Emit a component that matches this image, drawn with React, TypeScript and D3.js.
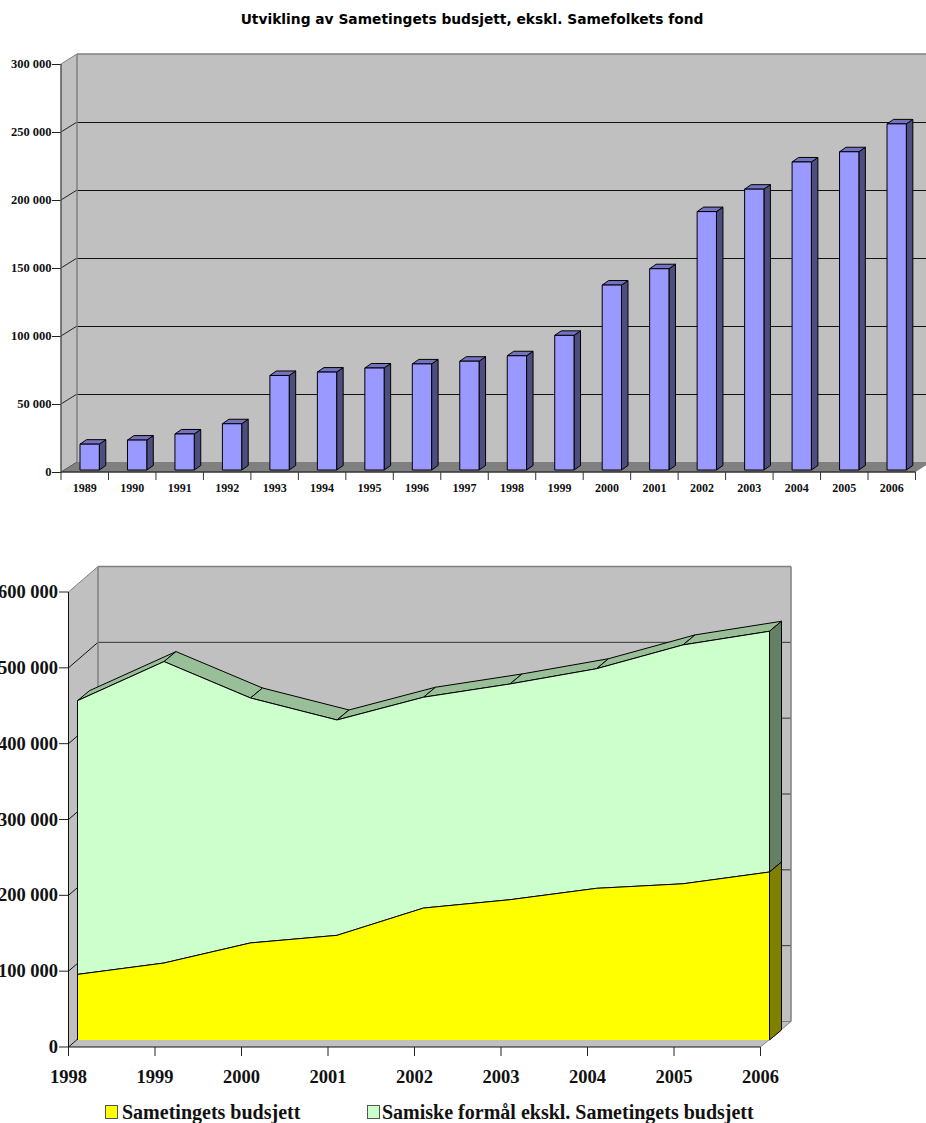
import React from "react";
import * as d3 from "d3";

const title = "Utvikling av Sametingets budsjett, ekskl. Samefolkets fond";
const barYears = ["1989","1990","1991","1992","1993","1994","1995","1996","1997","1998","1999","2000","2001","2002","2003","2004","2005","2006"];
const barValues = [19000,22000,26500,34000,69500,72000,75000,78000,80000,84000,99000,136000,148000,190000,206500,226500,234000,254500];
const barTicks = [0,50000,100000,150000,200000,250000,300000];

const areaYears = ["1998","1999","2000","2001","2002","2003","2004","2005","2006"];
const budsjett = [86500,101500,128000,138000,174000,185000,200000,206000,221500];
const samiskeFormal = [361000,397500,323000,284000,278000,284500,289600,315000,317500];
const areaTicks = [0,100000,200000,300000,400000,500000,600000];
const legendNames = ["Sametingets budsjett","Samiske formål ekskl. Sametingets budsjett"];

const fmt = (v: number) => v === 0 ? "0" : `${Math.round(v / 1000)} 000`;
const pts = (p: number[][]) => p.map(q => q.join(",")).join(" ");
const SERIF = "'Liberation Serif', serif";

function BarChart() {
  const y = d3.scaleLinear().domain([0, 300000]).range([472, 64]);
  const x = d3.scaleBand().domain(barYears).range([61, 915.5]);
  const D = [16, -10];
  const bw = x.bandwidth();
  const barW = 19.3, bx = 19, by = -2, bd = [6.5, -4.5];
  const right = 926;
  return (
    <g>
      <text x={472} y={24} textAnchor="middle" fontFamily="'DejaVu Sans', sans-serif" fontWeight="bold" fontSize={13.8} fill="#000">{title}</text>
      <polygon points={pts([[61, y(300000)], [61 + D[0], y(300000) + D[1]], [61 + D[0], y(0) + D[1]], [61, y(0)]])} fill="#c0c0c0" />
      <rect x={61 + D[0]} y={y(300000) + D[1]} width={right - 61 - D[0]} height={y(0) - y(300000)} fill="#c0c0c0" />
      <polygon points={pts([[61, y(0)], [61 + D[0], y(0) + D[1]], [931, y(0) + D[1]], [915.5, y(0)]])} fill="#808080" />
      {barTicks.map(t => (
        <g key={t}>
          {t > 0 && t < 300000 && <line x1={61 + D[0]} x2={right} y1={y(t) + D[1] + 0.5} y2={y(t) + D[1] + 0.5} stroke="#111" strokeWidth={1} />}
          <line x1={52} x2={61} y1={y(t) + 0.5} y2={y(t) + 0.5} stroke="#222" strokeWidth={1} />
          {t < 300000 && <line x1={61} x2={61 + D[0]} y1={y(t)} y2={y(t) + D[1]} stroke={t === 0 ? "#555" : "#222"} strokeWidth={1} />}
          <text x={51.5} y={y(t) + 3.5} textAnchor="end" fontFamily={SERIF} fontWeight="bold" fontSize={12.5} fill="#111">{fmt(t)}</text>
        </g>
      ))}
      <line x1={61 + D[0]} x2={61 + D[0]} y1={y(300000) + D[1]} y2={y(0) + D[1]} stroke="#808080" strokeWidth={1.5} />
      <line x1={61 + D[0]} x2={right} y1={y(300000) + D[1]} y2={y(300000) + D[1]} stroke="#808080" strokeWidth={1.5} />
      <line x1={61} x2={61 + D[0]} y1={y(300000)} y2={y(300000) + D[1]} stroke="#808080" strokeWidth={1} />
      <line x1={61} x2={61} y1={y(300000)} y2={y(0)} stroke="#555" strokeWidth={1.5} />
      <line x1={61} x2={915.5} y1={y(0)} y2={y(0)} stroke="#333" strokeWidth={1.5} />
      {barYears.map((yr, i) => {
        const x0 = x(yr)! + bx, x1 = x0 + barW;
        const top = y(barValues[i]) + by, base = y(0) + by;
        return (
          <g key={yr} stroke="#000" strokeWidth={1} strokeLinejoin="round">
            <polygon points={pts([[x1, top], [x1 + bd[0], top + bd[1]], [x1 + bd[0], base + bd[1]], [x1, base]])} fill="#4d4d80" />
            <polygon points={pts([[x0, top], [x0 + bd[0], top + bd[1]], [x1 + bd[0], top + bd[1]], [x1, top]])} fill="#7373bf" />
            <rect x={x0} y={top} width={barW} height={base - top} fill="#9999ff" />
          </g>
        );
      })}
      {barYears.map((yr, i) => (
        <g key={yr}>
          <line x1={x(yr)!} x2={x(yr)!} y1={y(0)} y2={480} stroke="#333" strokeWidth={1} />
          {i === barYears.length - 1 && <line x1={915.5} x2={915.5} y1={y(0)} y2={480} stroke="#333" strokeWidth={1} />}
          <text x={x(yr)! + bw / 2} y={491.5} textAnchor="middle" fontFamily={SERIF} fontWeight="bold" fontSize={12} fill="#111">{yr}</text>
        </g>
      ))}
    </g>
  );
}

function AreaChart() {
  const y = d3.scaleLinear().domain([0, 600000]).range([1047, 592]);
  const x = d3.scalePoint().domain(areaYears).range([68.5, 760.5]);
  const D = [29.5, -25.5];
  const off = [9, -7];
  const dep = [12, -10];
  const right = 791;
  const px = (yr: string) => x(yr)! + off[0];
  const py = (v: number) => y(v) + off[1];
  const totals = budsjett.map((b, i) => b + samiskeFormal[i]);
  const last = areaYears.length - 1;
  const lineGen = d3.line<string>().x(d => px(d));
  const yellowArea = d3.area<string>().x(d => px(d)).y0(py(0)).y1((_, i) => py(budsjett[i]))(areaYears)!;
  const greenArea = d3.area<string>().x(d => px(d)).y0((_, i) => py(budsjett[i])).y1((_, i) => py(totals[i]))(areaYears)!;
  const xl = px(areaYears[last]);
  return (
    <g>
      <polygon points={pts([[68.5, y(600000)], [68.5 + D[0], y(600000) + D[1]], [68.5 + D[0], y(0) + D[1]], [68.5, y(0)]])} fill="#c0c0c0" />
      <rect x={68.5 + D[0]} y={y(600000) + D[1]} width={right - 68.5 - D[0]} height={y(0) - y(600000)} fill="#c0c0c0" />
      <polygon points={pts([[68.5, y(0)], [68.5 + D[0], y(0) + D[1]], [right, y(0) + D[1]], [760.5, y(0)]])} fill="#c0c0c0" />
      {areaTicks.map(t => (
        <g key={t}>
          {t > 0 && t < 600000 && <line x1={68.5 + D[0]} x2={right} y1={y(t) + D[1]} y2={y(t) + D[1]} stroke="#333" strokeWidth={1} />}
          <line x1={59} x2={68.5} y1={y(t)} y2={y(t)} stroke="#222" strokeWidth={1} />
          {t < 600000 && <line x1={68.5} x2={68.5 + D[0]} y1={y(t)} y2={y(t) + D[1]} stroke="#111" strokeWidth={1} />}
          <text x={58} y={y(t) + 6} textAnchor="end" fontFamily={SERIF} fontWeight="bold" fontSize={18.5} fill="#111">{fmt(t)}</text>
        </g>
      ))}
      <line x1={68.5 + D[0]} x2={68.5 + D[0]} y1={y(600000) + D[1]} y2={y(0) + D[1]} stroke="#808080" strokeWidth={1.5} />
      <line x1={68.5 + D[0]} x2={right} y1={y(600000) + D[1]} y2={y(600000) + D[1]} stroke="#808080" strokeWidth={1.5} />
      <line x1={right} x2={right} y1={y(600000) + D[1]} y2={y(0) + D[1]} stroke="#808080" strokeWidth={1.5} />
      <line x1={68.5} x2={68.5 + D[0]} y1={y(600000)} y2={y(600000) + D[1]} stroke="#808080" strokeWidth={1} />
      <line x1={760.5} x2={right} y1={y(0)} y2={y(0) + D[1]} stroke="#808080" strokeWidth={1} />
      <line x1={781} x2={right} y1={y(0) + D[1]} y2={y(0) + D[1]} stroke="#808080" strokeWidth={1} />

      {areaYears.slice(0, last).map((yr, i) => {
        const a = [px(yr), py(totals[i])], b = [px(areaYears[i + 1]), py(totals[i + 1])];
        return <polygon key={yr} points={pts([a, [a[0] + dep[0], a[1] + dep[1]], [b[0] + dep[0], b[1] + dep[1]], b])} fill="#99bf99" stroke="#000" strokeWidth={1} strokeLinejoin="round" />;
      })}
      <polygon points={pts([[xl, py(totals[last])], [xl + dep[0], py(totals[last]) + dep[1]], [xl + dep[0], py(budsjett[last]) + dep[1]], [xl, py(budsjett[last])]])} fill="#668066" stroke="#000" strokeWidth={1} />
      <polygon points={pts([[xl, py(budsjett[last])], [xl + dep[0], py(budsjett[last]) + dep[1]], [xl + dep[0], py(0) + dep[1]], [xl, py(0)]])} fill="#808000" stroke="#000" strokeWidth={1} />
      <path d={greenArea} fill="#ccffcc" stroke="#000" strokeWidth={1} />
      <path d={yellowArea} fill="#ffff00" />
      <path d={lineGen.y((_, i) => py(budsjett[i]))(areaYears)!} fill="none" stroke="#000" strokeWidth={1} />
      <line x1={px(areaYears[0])} x2={px(areaYears[0])} y1={py(totals[0])} y2={py(0)} stroke="#000" strokeWidth={1} />
      <line x1={xl} x2={xl} y1={py(totals[last])} y2={py(0)} stroke="#000" strokeWidth={1} />

      <line x1={68.5} x2={68.5} y1={y(600000)} y2={1056} stroke="#111" strokeWidth={1} />
      <line x1={68.5} x2={760.5} y1={y(0)} y2={y(0)} stroke="#111" strokeWidth={1} />
      {areaYears.map(yr => (
        <g key={yr}>
          <line x1={x(yr)!} x2={x(yr)!} y1={y(0)} y2={1056} stroke="#222" strokeWidth={1} />
          <text x={x(yr)!} y={1083} textAnchor="middle" fontFamily={SERIF} fontWeight="bold" fontSize={18.5} fill="#111">{yr}</text>
        </g>
      ))}
      <rect x={105.5} y={1105.5} width={12} height={13} fill="#ffff00" stroke="#555" strokeWidth={1} />
      <text x={122} y={1118.5} fontFamily={SERIF} fontWeight="bold" fontSize={20} fill="#111">{legendNames[0]}</text>
      <rect x={367.5} y={1105.5} width={12} height={13} fill="#ccffcc" stroke="#555" strokeWidth={1} />
      <text x={382} y={1118.5} fontFamily={SERIF} fontWeight="bold" fontSize={20} fill="#111">{legendNames[1]}</text>
    </g>
  );
}

export default function App() {
  return (
    <svg width={926} height={1123} viewBox="0 0 926 1123" style={{ position: "absolute", left: 0, top: 0, display: "block" }}>
      <rect width={926} height={1123} fill="#fff" />
      <BarChart />
      <AreaChart />
    </svg>
  );
}
